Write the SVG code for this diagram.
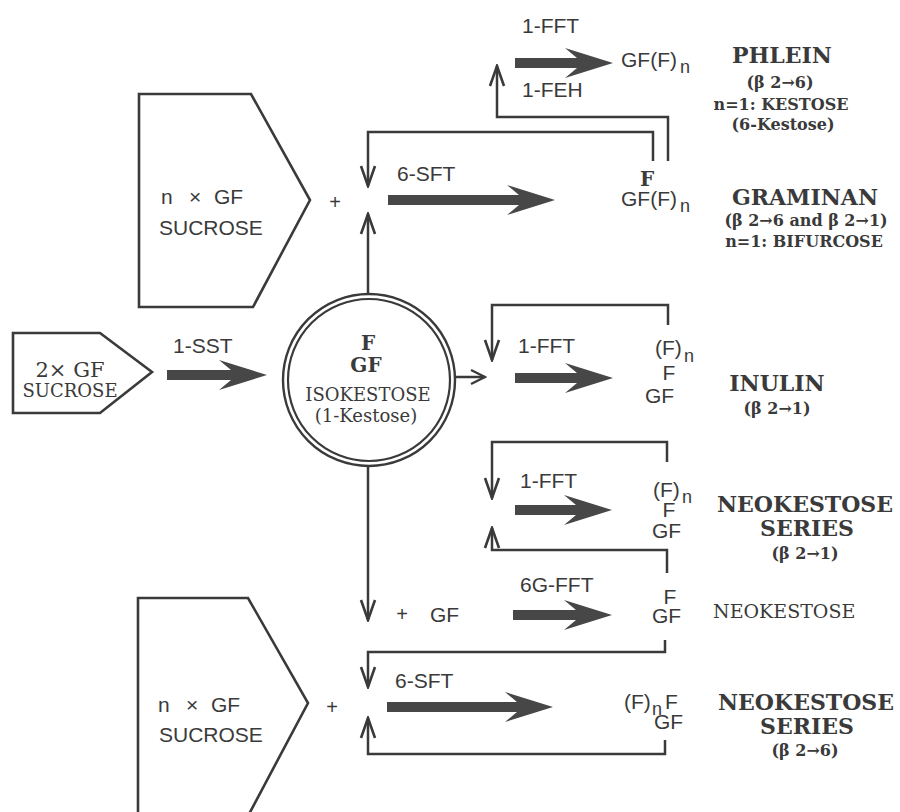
<svg xmlns="http://www.w3.org/2000/svg" width="900" height="812" viewBox="0 0 900 812">
<defs>
<marker id="ah" viewBox="-22 -10 24 20" refX="0" refY="0" markerWidth="24" markerHeight="20" markerUnits="userSpaceOnUse" orient="auto">
<path d="M-20,-7 L0,0 L-20,7" fill="none" stroke="#3a3a3a" stroke-width="2.6"/>
</marker>
<marker id="ahs" viewBox="-16 -10 18 20" refX="0" refY="0" markerWidth="18" markerHeight="20" markerUnits="userSpaceOnUse" orient="auto">
<path d="M-14,-7 L0,0 L-14,7" fill="none" stroke="#3a3a3a" stroke-width="2.4"/>
</marker>
<style>
.ln{fill:none;stroke:#3a3a3a;stroke-width:2.5}
.thick{fill:#474747;stroke:none}
.shape{fill:none;stroke:#3a3a3a;stroke-width:2.6;stroke-linejoin:miter}
.lab{font-family:"Liberation Sans",Arial,sans-serif;font-size:21px;fill:#3a3a3a}
.prod{font-family:"Liberation Sans",Arial,sans-serif;font-size:21px;fill:#3a3a3a}
.nsub{font-family:"Liberation Sans",Arial,sans-serif;font-size:18px;fill:#3a3a3a}
.name{font-family:"DejaVu Serif","Liberation Serif",serif;font-weight:bold;font-size:22px;fill:#3a3a3a;text-anchor:middle}
.sub{font-family:"DejaVu Serif","Liberation Serif",serif;font-weight:bold;font-size:16px;fill:#3a3a3a;text-anchor:middle}
.ser{font-family:"DejaVu Serif","Liberation Serif",serif;fill:#3a3a3a}
.bf{font-family:"DejaVu Serif","Liberation Serif",serif;font-weight:bold;font-size:20px;fill:#3a3a3a;text-anchor:middle}
.plus{font-family:"Liberation Sans",Arial,sans-serif;font-size:20px;fill:#3a3a3a;text-anchor:middle}
</style>
</defs>
<rect x="0" y="0" width="900" height="812" fill="#ffffff"/>

<g id="sucrose-top">
<polygon class="shape" points="139,94 251,94 310,200 253,307 139,307"/>
<text class="lab" y="204"><tspan x="161">n</tspan><tspan x="189">×</tspan><tspan x="214">GF</tspan></text>
<text class="lab" x="159" y="235" font-size="20">SUCROSE</text>
</g>

<g id="sucrose-left">
<polygon class="shape" points="13,333 100,333 152,372 100,413 13,413"/>
<text class="ser" x="70" y="377" font-size="21" text-anchor="middle">2× GF</text>
<text class="ser" x="70" y="397" font-size="18" text-anchor="middle">SUCROSE</text>
</g>

<g id="sucrose-bottom">
<polygon class="shape" points="138,598 248,598 308,703 248,816 138,816"/>
<text class="lab" y="712"><tspan x="158">n</tspan><tspan x="186">×</tspan><tspan x="211">GF</tspan></text>
<text class="lab" x="159" y="742" font-size="20">SUCROSE</text>
</g>

<g id="isokestose">
<circle cx="369" cy="380" r="86" fill="none" stroke="#3a3a3a" stroke-width="2.4"/>
<circle cx="369" cy="380" r="81" fill="none" stroke="#3a3a3a" stroke-width="2.2"/>
<text class="bf" x="368" y="350">F</text>
<text class="bf" x="366" y="372">GF</text>
<text class="ser" x="368" y="401" font-size="18" text-anchor="middle">ISOKESTOSE</text>
<text class="ser" x="366" y="422" font-size="18" text-anchor="middle">(1-Kestose)</text>
</g>

<g id="phlein">
<text class="prod" x="621" y="67">GF(F)</text><text class="nsub" x="680" y="73">n</text>
<text class="name" x="782" y="63">PHLEIN</text>
<text class="sub" x="780" y="88">(β 2→6)</text>
<text class="sub" x="781" y="110">n=1: KESTOSE</text>
<text class="sub" x="783" y="130" font-size="15">(6-Kestose)</text>
</g>

<g id="graminan">
<text class="bf" x="647" y="186" font-size="18">F</text>
<text class="prod" x="621" y="206">GF(F)</text><text class="nsub" x="680" y="212">n</text>
<text class="name" x="805" y="205" font-size="24">GRAMINAN</text>
<text class="sub" x="806" y="226">(β 2→6 and β 2→1)</text>
<text class="sub" x="804" y="247">n=1: BIFURCOSE</text>
</g>

<g id="inulin">
<text class="prod" x="655" y="355">(F)</text><text class="nsub" x="684" y="362">n</text>
<text class="prod" x="669" y="380" text-anchor="middle">F</text>
<text class="prod" x="645" y="403">GF</text>
<text class="name" x="777" y="391" font-size="21">INULIN</text>
<text class="sub" x="777" y="414">(β 2→1)</text>
</g>

<g id="neokestose-series-1">
<text class="prod" x="653" y="497">(F)</text><text class="nsub" x="682" y="503">n</text>
<text class="prod" x="669" y="517" text-anchor="middle">F</text>
<text class="prod" x="652" y="538">GF</text>
<text class="name" x="805" y="512">NEOKESTOSE</text>
<text class="name" x="807" y="536" font-size="21">SERIES</text>
<text class="sub" x="805" y="559">(β 2→1)</text>
</g>

<g id="neokestose">
<text class="prod" x="670" y="604" text-anchor="middle">F</text>
<text class="prod" x="652" y="623">GF</text>
<text class="ser" x="713" y="618" font-size="19">NEOKESTOSE</text>
</g>

<g id="neokestose-series-2">
<text class="prod" x="624" y="709">(F)</text><text class="nsub" x="652" y="715">n</text><text class="prod" x="665" y="709">F</text>
<text class="prod" x="654" y="729">GF</text>
<text class="name" x="806" y="710">NEOKESTOSE</text>
<text class="name" x="807" y="734" font-size="21">SERIES</text>
<text class="sub" x="805" y="756">(β 2→6)</text>
</g>

<g id="connectors">
<path class="ln" d="M668,161 V117 H497 V66" marker-end="url(#ah)"/>
<path class="ln" d="M653,161 V132 H368 V186" marker-end="url(#ah)"/>
<path class="ln" d="M368,294 V214" marker-end="url(#ah)"/>
<path class="ln" d="M368,466 V620" marker-end="url(#ah)"/>
<path class="ln" d="M455,377 H485" marker-end="url(#ahs)"/>
<path class="ln" d="M668,325 V305 H492 V360" marker-end="url(#ah)"/>
<path class="ln" d="M667,462 V442 H492 V498" marker-end="url(#ah)"/>
<path class="ln" d="M667,573 V550 H492 V528" marker-end="url(#ah)"/>
<path class="ln" d="M665,640 V652 H368 V687" marker-end="url(#ah)"/>
<path class="ln" d="M665,740 V754 H368 V718" marker-end="url(#ah)"/>

<path class="thick" d="M515,58 H577 L565,48 L613,63 L565,78 L577,68 H515 Z"/>
<path class="thick" d="M388,195 H519 L507,185 L555,200 L507,215 L519,205 H388 Z"/>
<path class="thick" d="M167,370 H231 L219,360 L267,375 L219,390 L231,380 H167 Z"/>
<path class="thick" d="M515,373 H577 L565,363 L613,378 L565,393 L577,383 H515 Z"/>
<path class="thick" d="M515,505 H576 L564,495 L612,510 L564,525 L576,515 H515 Z"/>
<path class="thick" d="M513,610 H576 L564,600 L612,615 L564,630 L576,620 H513 Z"/>
<path class="thick" d="M387,702 H517 L505,692 L553,707 L505,722 L517,712 H387 Z"/>

<text class="lab" x="522" y="33">1-FFT</text>
<text class="lab" x="522" y="97">1-FEH</text>
<text class="lab" x="397" y="181">6-SFT</text>
<text class="lab" x="173" y="353">1-SST</text>
<text class="lab" x="518" y="353">1-FFT</text>
<text class="lab" x="520" y="488">1-FFT</text>
<text class="lab" x="520" y="592">6G-FFT</text>
<text class="lab" x="395" y="688">6-SFT</text>
<text class="plus" x="335" y="209">+</text>
<text class="plus" x="332" y="714">+</text>
<text class="plus" x="402" y="621">+</text>
<text class="lab" x="430" y="622">GF</text>
</g>
</svg>
